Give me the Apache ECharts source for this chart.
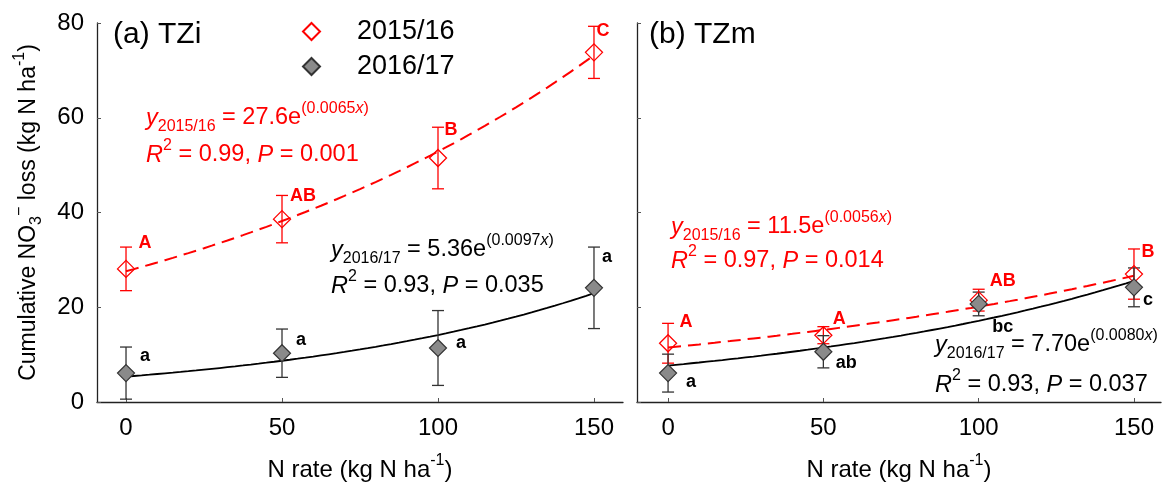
<!DOCTYPE html>
<html>
<head>
<meta charset="utf-8">
<script src="https://cdn.jsdelivr.net/npm/echarts@6/dist/echarts.min.js"></script>
<style>
  html, body { margin: 0; padding: 0; background: #fff; }
  #chart { width: 1165px; height: 483px; }
</style>
</head>
<body>
<div id="chart"></div>
<script>
// N application rates (kg N ha-1) and tick values
const nRates = [0, 50, 100, 150];
const xTicks = [0, 50, 100, 150];

// (a) TZi: cumulative NO3- loss, mean and error
const tziMean1516 = [28.1, 38.6, 51.5, 73.8];
const tziErr1516 = [4.6, 5.0, 6.5, 5.5];
const tziMean1617 = [6.1, 10.3, 11.4, 24.1];
const tziErr1617 = [5.5, 5.1, 7.9, 8.6];
const tziLetters1516 = ['A', 'AB', 'B', 'C'];
const tziLetters1617 = ['a', 'a', 'a', 'a'];

// (b) TZm
const tzmMean1516 = [12.4, 14.1, 21.5, 27.0];
const tzmErr1516 = [4.2, 1.8, 2.3, 5.3];
const tzmMean1617 = [6.1, 10.6, 20.7, 24.2];
const tzmErr1617 = [4.0, 3.4, 2.5, 4.1];
const tzmLetters1516 = ['A', 'A', 'AB', 'B'];
const tzmLetters1617 = ['a', 'ab', 'bc', 'c'];

// Exponential fits y = a·e^(b·x): [a, b, R2, P]
const tziFit1516 = ['27.6', '0.0065', '0.99', '0.001'];
const tziFit1617 = ['5.36', '0.0097', '0.93', '0.035'];
const tzmFit1516 = ['11.5', '0.0056', '0.97', '0.014'];
const tzmFit1617 = ['7.70', '0.0080', '0.93', '0.037'];

const seasons = ['2015/16', '2016/17'];

// letter placement relative to each marker (px)
const tziLetterShift1516 = [[19, -26], [21, -23], [13, -28], [9, -21]];
const tziLetterShift1617 = [[19, -17], [19, -13], [23, -5], [13, -31]];
const tzmLetterShift1516 = [[18, -21], [16, -16], [24, -19], [14, -22]];
const tzmLetterShift1617 = [[23, 9], [23, 11], [24, 23], [14, 13]];

const FONT = '"Liberation Sans", Arial, sans-serif';
const RED = '#ff0000';
const DARK = '#333333';

function richStyles(color, size) {
  const s = size || 22;
  const sub = Math.round(s * 0.68);
  const lh = Math.round(s * 1.45);
  return {
    n: { fontFamily: FONT, fontSize: s, lineHeight: lh, color: color, fill: color },
    it: { fontFamily: FONT, fontSize: s, lineHeight: lh, fontStyle: 'italic', color: color, fill: color },
    sub: { fontFamily: FONT, fontSize: sub, lineHeight: sub, verticalAlign: 'bottom', color: color, fill: color },
    sup: { fontFamily: FONT, fontSize: sub, lineHeight: sub, verticalAlign: 'top', color: color, fill: color },
    supi: { fontFamily: FONT, fontSize: sub, lineHeight: sub, verticalAlign: 'top', fontStyle: 'italic', color: color, fill: color }
  };
}

function fitCurve(fit) {
  const a = parseFloat(fit[0]), b = parseFloat(fit[1]);
  const pts = [];
  for (let x = 0; x <= 150; x += 2.5) pts.push([x, a * Math.exp(b * x)]);
  return pts;
}

function pointData(means, errs) {
  return nRates.map((x, i) => [x, means[i], errs[i]]);
}

function errorSeries(name, idx, means, errs, letters, shifts, color, letterColor) {
  return {
    type: 'custom',
    name: name + ' error',
    xAxisIndex: idx, yAxisIndex: idx,
    z: 3,
    silent: true,
    data: pointData(means, errs),
    renderItem: function (params, api) {
      const i = params.dataIndex;
      const x = api.value(0), y = api.value(1), e = api.value(2);
      const top = api.coord([x, y + e]);
      const bot = api.coord([x, y - e]);
      const mid = api.coord([x, y]);
      const cap = 6;
      const ls = { stroke: color, lineWidth: 1.3 };
      return {
        type: 'group',
        children: [
          { type: 'line', shape: { x1: top[0], y1: top[1], x2: bot[0], y2: bot[1] }, style: ls },
          { type: 'line', shape: { x1: top[0] - cap, y1: top[1], x2: top[0] + cap, y2: top[1] }, style: ls },
          { type: 'line', shape: { x1: bot[0] - cap, y1: bot[1], x2: bot[0] + cap, y2: bot[1] }, style: ls },
          {
            type: 'text',
            x: mid[0] + shifts[i][0], y: mid[1] + shifts[i][1],
            style: {
              text: letters[i], fill: letterColor, font: 'bold 18px ' + FONT,
              align: 'center', verticalAlign: 'middle'
            }
          }
        ]
      };
    }
  };
}

function scatterSeries(name, idx, means, filled) {
  return {
    type: 'scatter',
    name: name,
    xAxisIndex: idx, yAxisIndex: idx,
    z: 5,
    symbol: 'diamond',
    symbolSize: 17,
    data: nRates.map((x, i) => [x, means[i]]),
    itemStyle: filled
      ? { color: '#8a8a8a', borderColor: DARK, borderWidth: 1.2, opacity: 1 }
      : { color: 'rgba(255,255,255,0)', borderColor: RED, borderWidth: 1.3, opacity: 1 }
  };
}

function lineSeries(idx, fit, dashed) {
  return {
    type: 'line',
    xAxisIndex: idx, yAxisIndex: idx,
    z: 2,
    silent: true,
    symbol: 'none',
    data: fitCurve(fit),
    lineStyle: dashed
      ? { color: RED, width: 2, type: [13, 7] }
      : { color: '#000', width: 1.8 }
  };
}

function eqLine1(season, fit) {
  return '{it|y}{sub|' + season + '}{n| = ' + fit[0] + 'e}{sup|(' + fit[1] + '}{supi|x}{sup|)}';
}
function eqLine2(fit) {
  return '{it|R}{sup|2}{n| = ' + fit[2] + ', }{it|P}{n| = ' + fit[3] + '}';
}

function eqText(x, y, text, color) {
  return {
    type: 'text', x: x, y: y, z: 10, silent: true,
    style: { text: text, rich: richStyles(color, 23.5), verticalAlign: 'middle', align: 'left', fill: color }
  };
}

const axisCommon = {
  axisLine: { show: true, onZero: false, lineStyle: { color: '#222', width: 1.3 } },
  axisTick: { show: true, inside: true, length: 4, lineStyle: { color: '#555', width: 1 } },
  splitLine: { show: false }
};

function xAxis(idx, min, max) {
  return Object.assign({}, axisCommon, {
    gridIndex: idx, type: 'value', min: min, max: max,
    axisTick: Object.assign({}, axisCommon.axisTick, { customValues: xTicks }),
    axisLabel: { customValues: xTicks, fontFamily: FONT, fontSize: 24, color: '#000', margin: 14 },
    name: '{n|N rate (kg N ha}{sup|-1}{n|)}',
    nameLocation: 'middle', nameGap: 51,
    nameTextStyle: { rich: richStyles('#000', 24) }
  });
}

function yAxis(idx, showLabels) {
  const ax = Object.assign({}, axisCommon, {
    gridIndex: idx, type: 'value', min: 0, max: 80, interval: 20,
    axisLabel: { show: showLabels, fontFamily: FONT, fontSize: 24, color: '#000', margin: 13 }
  });
  if (showLabels) {
    ax.name = '{n|Cumulative NO}{sub|3}{sup|−}{n| loss (kg N ha}{sup|-1}{n|)}';
    ax.nameLocation = 'middle';
    ax.nameGap = 52;
    ax.nameTextStyle = { rich: richStyles('#000', 23) };
  }
  return ax;
}

const chart = echarts.init(document.getElementById('chart'), null, { renderer: 'canvas' });

chart.setOption({
  backgroundColor: '#fff',
  animation: false,
  grid: [
    { left: 97, top: 23, width: 526, height: 379, outerBoundsMode: 'none' },
    { left: 637, top: 23, width: 524, height: 379, outerBoundsMode: 'none' }
  ],
  xAxis: [xAxis(0, -9.3, 159.3), xAxis(1, -10, 158.7)],
  yAxis: [yAxis(0, true), yAxis(1, false)],
  legend: {
    data: seasons,
    orient: 'vertical',
    left: 302, top: 18,
    padding: 0,
    itemWidth: 17, itemHeight: 17,
    itemGap: 8,
    textStyle: { fontFamily: FONT, fontSize: 27, color: '#000', padding: [0, 0, 0, 32] },
    selectedMode: false
  },
  graphic: [
    { type: 'text', x: 113, y: 35, silent: true,
      style: { text: '(a) TZi', font: '30px ' + FONT, fill: '#000', verticalAlign: 'middle' } },
    { type: 'text', x: 649, y: 35, silent: true,
      style: { text: '(b) TZm', font: '30px ' + FONT, fill: '#000', verticalAlign: 'middle' } },
    eqText(146, 118, eqLine1(seasons[0], tziFit1516), RED),
    eqText(146, 155, eqLine2(tziFit1516), RED),
    eqText(331, 250, eqLine1(seasons[1], tziFit1617), '#000'),
    eqText(331, 286, eqLine2(tziFit1617), '#000'),
    eqText(671, 227, eqLine1(seasons[0], tzmFit1516), RED),
    eqText(671, 261, eqLine2(tzmFit1516), RED),
    eqText(935, 345, eqLine1(seasons[1], tzmFit1617), '#000'),
    eqText(935, 385, eqLine2(tzmFit1617), '#000')
  ],
  series: [
    lineSeries(0, tziFit1516, true),
    lineSeries(0, tziFit1617, false),
    lineSeries(1, tzmFit1516, true),
    lineSeries(1, tzmFit1617, false),
    errorSeries(seasons[0], 0, tziMean1516, tziErr1516, tziLetters1516, tziLetterShift1516, RED, RED),
    errorSeries(seasons[1], 0, tziMean1617, tziErr1617, tziLetters1617, tziLetterShift1617, DARK, '#000'),
    errorSeries(seasons[0], 1, tzmMean1516, tzmErr1516, tzmLetters1516, tzmLetterShift1516, RED, RED),
    errorSeries(seasons[1], 1, tzmMean1617, tzmErr1617, tzmLetters1617, tzmLetterShift1617, DARK, '#000'),
    scatterSeries(seasons[0], 0, tziMean1516, false),
    scatterSeries(seasons[1], 0, tziMean1617, true),
    scatterSeries(seasons[0], 1, tzmMean1516, false),
    scatterSeries(seasons[1], 1, tzmMean1617, true)
  ]
});
</script>
</body>
</html>
